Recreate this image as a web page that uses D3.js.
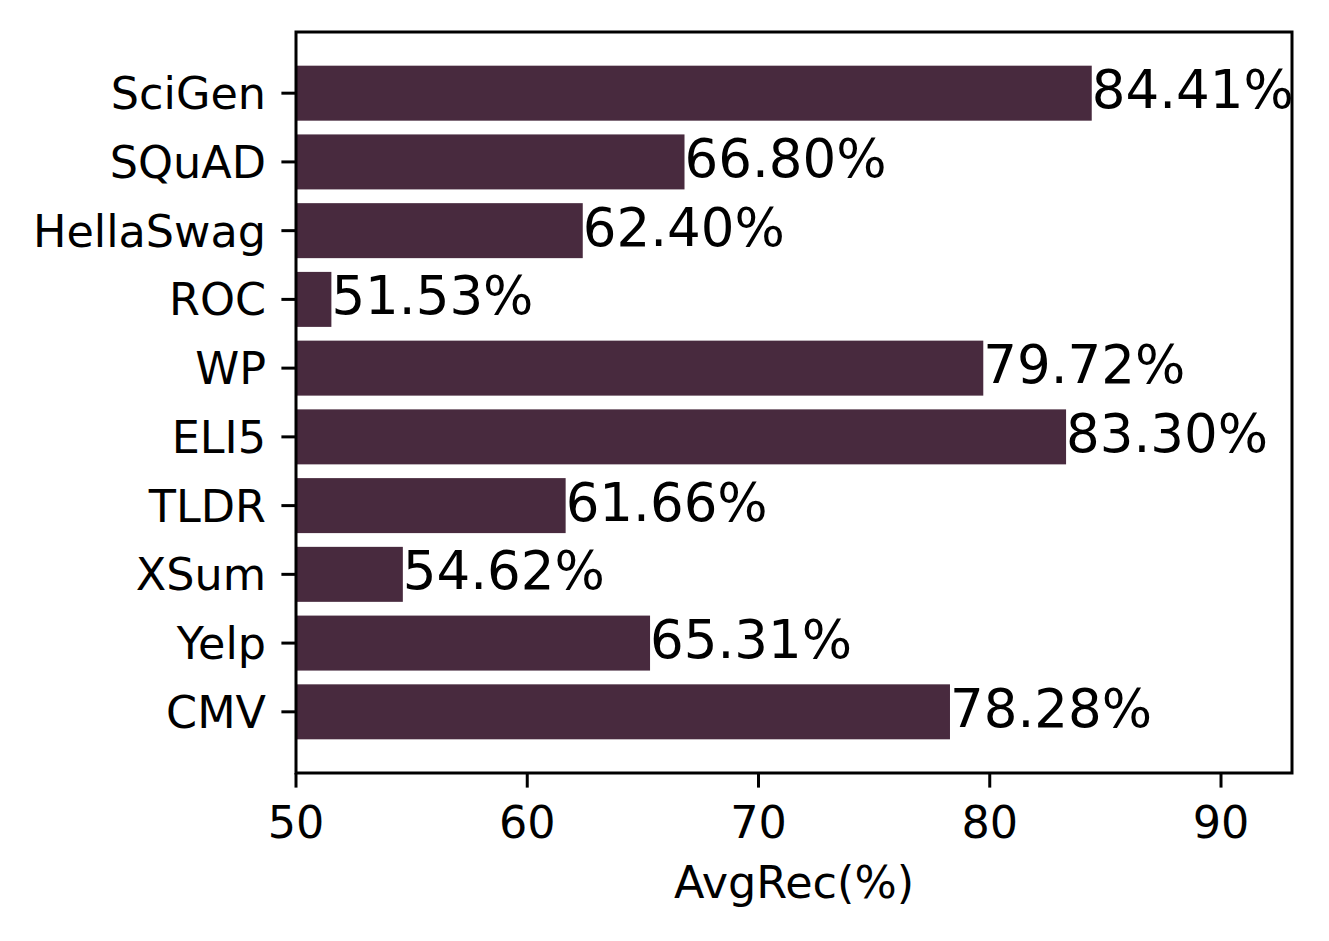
<!DOCTYPE html>
<html>
<head>
    <meta charset="utf-8">
    <script src="https://d3js.org/d3.v7.min.js"></script>
    <style>
        body{ margin: 0; background: #fff; }
        svg{ display: block; background: #fff; }
        text{ font-family: "DejaVu Sans", sans-serif; fill: #000; }
    </style>
</head>
<body>
    <svg id="chart" width="1329" height="941"></svg>
    <script>
        // Data
        var datasets = ["SciGen", "SQuAD", "HellaSwag", "ROC", "WP", "ELI5", "TLDR", "XSum", "Yelp", "CMV"];
        var avgRec = [84.41, 66.80, 62.40, 51.53, 79.72, 83.30, 61.66, 54.62, 65.31, 78.28];
        var xTicks = [50, 60, 70, 80, 90];

        var svg = d3.select("#chart");
        // plot area (don't use "top" - clashes with window.top)
        var plotL = 296, plotR = 1292, plotT = 32, plotB = 773;
        var barColor = "#482a3e";

        var x = d3.scaleLinear().domain([50, 93.07]).range([plotL, plotR]);
        // matplotlib style: bars at integer slots, height 0.8, 5% margins
        var y = d3.scaleLinear().domain([-0.89, 9.89]).range([plotT, plotB]);

        // bars
        svg.selectAll("rect.bar")
            .data(avgRec)
            .enter()
            .append("rect")
            .attr("class", "bar")
            .attr("x", x(50))
            .attr("y", (d, i) => y(i - 0.4))
            .attr("width", d => x(d) - x(50))
            .attr("height", y(0.4) - y(-0.4))
            .attr("fill", barColor);

        // value labels
        svg.selectAll("text.val")
            .data(avgRec)
            .enter()
            .append("text")
            .attr("class", "val")
            .attr("x", d => x(d))
            .attr("y", (d, i) => y(i) + 15)
            .style("font-size", "53px")
            .text(d => d.toFixed(2) + "%");

        // frame
        svg.append("rect")
            .attr("x", plotL).attr("y", plotT)
            .attr("width", plotR - plotL).attr("height", plotB - plotT)
            .attr("fill", "none").attr("stroke", "#000").attr("stroke-width", 3);

        // x axis
        var xAxis = svg.append("g");
        xTicks.forEach(function(t){
            xAxis.append("line")
                .attr("x1", x(t)).attr("x2", x(t))
                .attr("y1", plotB).attr("y2", plotB + 14.6)
                .attr("stroke", "#000").attr("stroke-width", 3);
            xAxis.append("text")
                .attr("x", x(t)).attr("y", 838)
                .attr("text-anchor", "middle")
                .style("font-size", "44.5px")
                .text(t);
        });

        // y axis
        var yAxis = svg.append("g");
        datasets.forEach(function(name, i){
            yAxis.append("line")
                .attr("x1", plotL - 14.6).attr("x2", plotL)
                .attr("y1", y(i)).attr("y2", y(i))
                .attr("stroke", "#000").attr("stroke-width", 3);
            yAxis.append("text")
                .attr("x", 266).attr("y", y(i) + 16)
                .attr("text-anchor", "end")
                .style("font-size", "44.5px")
                .text(name);
        });

        // axis title
        svg.append("text")
            .attr("x", (plotL + plotR) / 2).attr("y", 898)
            .attr("text-anchor", "middle")
            .style("font-size", "44.5px")
            .text("AvgRec(%)");
    </script>
</body>
</html>
